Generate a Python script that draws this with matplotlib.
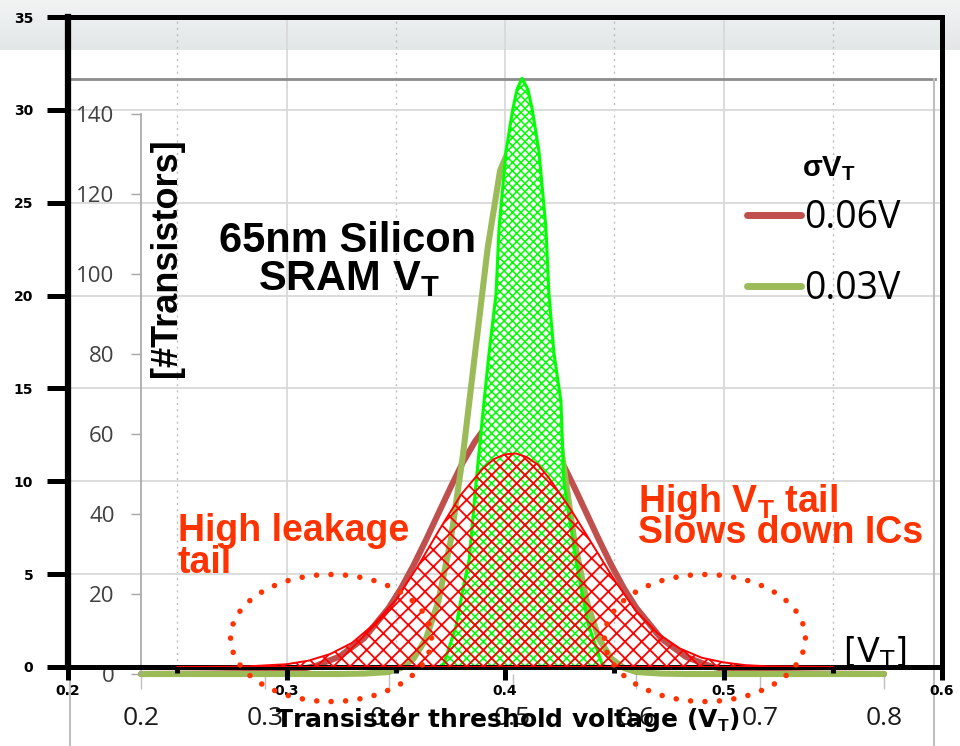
import numpy as np
import matplotlib
import matplotlib.pyplot as plt
from matplotlib.lines import Line2D
from matplotlib.patches import Ellipse
from matplotlib.colors import LinearSegmentedColormap

plt.rcParams['mathtext.fontset'] = 'custom'
plt.rcParams['mathtext.bf'] = 'Liberation Sans:bold'
plt.rcParams['mathtext.rm'] = 'DejaVu Sans'

# Histogram of SRAM threshold voltages (counts per 10 mV bin)
vt_bins = [0.20, 0.25, 0.30, 0.32, 0.34, 0.36, 0.38,
           0.40, 0.41, 0.42, 0.43, 0.44, 0.45, 0.46, 0.47, 0.48, 0.49, 0.50,
           0.51, 0.52, 0.53, 0.54, 0.55, 0.56, 0.57, 0.58, 0.59, 0.60,
           0.62, 0.64, 0.66, 0.68, 0.70, 0.75, 0.80]
count_sigma_060 = [0, 0.1, 0.3, 0.7, 1.9, 4.3, 8.9,
                   16.5, 21.4, 27.1, 33.4, 40.0, 46.6, 52.9, 58.2, 62.4, 65.1, 66.0,
                   65.1, 62.4, 58.2, 52.9, 46.6, 40.0, 33.4, 27.1, 21.4, 16.5,
                   8.9, 4.3, 1.9, 0.7, 0.3, 0.1, 0]
count_sigma_030 = [0, 0, 0, 0, 0, 0, 0.1,
                   0.5, 1.5, 3.8, 8.7, 18.0, 33.2, 54.7, 80.7, 106.5, 125.8, 133.0,
                   125.8, 106.5, 80.7, 54.7, 33.2, 18.0, 8.7, 3.8, 1.5, 0.5,
                   0.1, 0, 0, 0, 0, 0, 0]
series_labels = ['0.06V', '0.03V']

# Hatched overlay (second scale: 0.2-0.6 V, 0-35)
vt_red = [0.25, 0.28, 0.30, 0.31, 0.32, 0.33, 0.34, 0.35, 0.36, 0.37, 0.38, 0.39,
          0.395, 0.40, 0.405, 0.41, 0.415, 0.42, 0.43, 0.44, 0.45, 0.46, 0.47,
          0.48, 0.49, 0.50, 0.51, 0.52, 0.55]
tail_red = [0, 0.02, 0.15, 0.34, 0.7, 1.3, 2.3, 3.6, 5.4, 7.4, 9.3, 10.7,
            11.2, 11.45, 11.5, 11.3, 10.9, 10.2, 8.5, 6.6, 4.7, 3.0, 1.8,
            1.0, 0.5, 0.25, 0.1, 0.04, 0]
vt_green = [0.370, 0.3721, 0.3776, 0.3804, 0.3836, 0.3868, 0.3904, 0.3927, 0.3959,
            0.3973, 0.4005, 0.4035, 0.4055, 0.4078, 0.4105, 0.4125, 0.4155, 0.4187,
            0.4201, 0.4224, 0.4256, 0.4269, 0.4324, 0.4352, 0.4384, 0.4443, 0.446]
tail_green = [0, 0.2, 2.2, 4.0, 5.8, 10.0, 14.3, 16.9, 20.1,
              23.7, 27.8, 30.0, 31.1, 31.7, 31.1, 30.0, 27.8, 23.7,
              20.1, 16.9, 14.3, 10.0, 5.8, 4.0, 2.2, 0.2, 0]

W, H = 960, 746
fig = plt.figure(figsize=(W / 100, H / 100), dpi=100)


def fx(px):
    return px / W


def fy(py):
    return 1 - py / H


# grey header band
ax_band = fig.add_axes([0, fy(50), 1, 50 / H], zorder=-3)
band = np.linspace(0, 1, 64)[:, None]
ax_band.imshow(band, aspect='auto',
               cmap=LinearSegmentedColormap.from_list('band', ['#F2F4F4', '#E3E7E7']))
ax_band.axis('off')

out_rect = [fx(68), fy(667), fx(942) - fx(68), fy(17) - fy(667)]

# grid of the outer scale, below everything
ax_grid = fig.add_axes(out_rect, zorder=0)
ax_grid.set_facecolor('none')
ax_grid.set_xlim(0.2, 0.6)
ax_grid.set_ylim(0, 35)
ax_grid.set_xticks([0.3, 0.4, 0.5])
ax_grid.set_xticks([0.25, 0.35, 0.45, 0.55], minor=True)
ax_grid.set_yticks(range(5, 35, 5))
ax_grid.grid(which='major', color='#D9D9D9', lw=1.3)
ax_grid.grid(which='minor', axis='x', color='#BDBDBD', lw=1, linestyle=(0, (1.5, 3)))
ax_grid.tick_params(which='both', length=0, labelbottom=False, labelleft=False)
for s in ax_grid.spines.values():
    s.set_visible(False)

# frame of the embedded chart
fig.add_artist(Line2D([fx(70), fx(935)], [fy(79), fy(79)], color='#8C8C8C', lw=2, zorder=0.5))
fig.add_artist(Line2D([fx(70), fx(70)], [fy(79), 0], color='#BFBFBF', lw=1.5, zorder=0.5))
fig.add_artist(Line2D([fx(934), fx(934)], [fy(79), 0], color='#BFBFBF', lw=1.5, zorder=0.5))

# embedded chart: transistor counts
ax_in = fig.add_axes([fx(141), fy(674), fx(884) - fx(141), fy(113.5) - fy(674)], zorder=1)
ax_in.set_facecolor('none')
l_red, = ax_in.plot(vt_bins, count_sigma_060, color='#C0504D', lw=4.4,
                    solid_capstyle='round', clip_on=False, label=series_labels[0])
l_grn, = ax_in.plot(vt_bins, count_sigma_030, color='#9BBB59', lw=4.4,
                    solid_capstyle='round', clip_on=False, label=series_labels[1])
ax_in.set_xlim(0.2, 0.8)
ax_in.set_ylim(0, 140)
ax_in.set_xticks([0.2, 0.3, 0.4, 0.5, 0.6, 0.7, 0.8])
ax_in.set_xticklabels(['0.2', '0.3', '0.4', '0.5', '0.6', '0.7', '0.8'])
ax_in.set_yticks(range(0, 141, 20))
for side in ['top', 'right', 'bottom']:
    ax_in.spines[side].set_visible(False)
ax_in.spines['left'].set_color('#A6A6A6')
ax_in.spines['left'].set_linewidth(1.2)
ax_in.tick_params(axis='y', length=7, width=1, color='#A6A6A6', pad=12,
                  labelsize=16, labelcolor='#404040')
ax_in.tick_params(axis='x', length=11, width=1, color='#BFBFBF', pad=12,
                  labelsize=19, labelcolor='#1A1A1A')
for lab in ax_in.get_xticklabels() + ax_in.get_yticklabels():
    lab.set_fontfamily('Open Sans')

leg = ax_in.legend(handles=[l_red, l_grn], loc='upper left',
                   bbox_to_anchor=(fx(747), fy(199)), bbox_transform=fig.transFigure,
                   frameon=False, prop={'family': 'Open Sans', 'size': 27},
                   handlelength=1.45, handletextpad=0.08, labelspacing=0.88,
                   borderpad=0, borderaxespad=0)
for h in leg.legend_handles:
    h.set_linewidth(5)

# outer chart: hatched distributions
ax_out = fig.add_axes(out_rect, zorder=2)
ax_out.set_facecolor('none')
ax_out.set_xlim(0.2, 0.6)
ax_out.set_ylim(0, 35)

with plt.rc_context({'hatch.linewidth': 1.1}):
    g = ax_out.fill_between(vt_green, tail_green, 0, facecolor='white',
                            edgecolor='#00FF00', hatch='xxxx', lw=2.2, zorder=2)
with plt.rc_context({'hatch.linewidth': 1.3}):
    r = ax_out.fill_between(vt_red, tail_red, 0, facecolor='none',
                            edgecolor='#FF0000', hatch='xx', lw=1.4, zorder=3)
if hasattr(g, 'set_hatch_linewidth'):
    g.set_hatch_linewidth(1.1)
    r.set_hatch_linewidth(1.3)

for cx in [0.3204, 0.4915]:
    ax_out.add_patch(Ellipse((cx, 1.56), 0.092, 6.84, fill=False, edgecolor='#FF3300',
                             lw=4.0, linestyle=(0, (0.01, 2.6)), capstyle='round',
                             clip_on=False, zorder=6))

for s in ax_out.spines.values():
    s.set_color('black')
    s.set_linewidth(3.6)
ax_out.spines['left'].set_linewidth(4.5)
ax_out.set_yticks(range(0, 36, 5))
ax_out.set_xticks([0.2, 0.3, 0.4, 0.5, 0.6])
ax_out.set_xticklabels(['0.2', '0.3', '0.4', '0.5', '0.6'])
ax_out.set_xticks([0.25, 0.35, 0.45, 0.55], minor=True)
ax_out.tick_params(axis='y', length=15, width=3.6, pad=10, labelsize=10)
ax_out.tick_params(axis='x', which='major', length=9, width=3.6, pad=3, labelsize=10)
ax_out.tick_params(axis='x', which='minor', length=4, width=3.6)
for lab in ax_out.get_xticklabels() + ax_out.get_yticklabels():
    lab.set_fontweight('bold')

# annotations
bold = dict(family='Liberation Sans', weight='bold')
fig.text(fx(802), fy(176), 'σV$_\\mathbf{T}$', ha='left', va='baseline', size=21, **bold)
fig.text(fx(166), fy(258), '[#Transistors]', rotation=90, ha='center', va='center',
         size=26, **bold)
fig.text(fx(348), fy(252), '65nm Silicon', ha='center', va='baseline', size=30, **bold)
fig.text(fx(349), fy(290), r'SRAM V$_\mathbf{T}$', ha='center', va='baseline', size=30, **bold)
fig.text(fx(178), fy(541), 'High leakage', color='#FF3300', ha='left', va='baseline',
         size=27, **bold)
fig.text(fx(178), fy(573), 'tail', color='#FF3300', ha='left', va='baseline', size=27, **bold)
fig.text(fx(638), fy(512), r'High V$_\mathbf{T}$ tail', color='#FF3300', ha='left',
         va='baseline', size=27, **bold)
fig.text(fx(638), fy(543), 'Slows down ICs', color='#FF3300', ha='left', va='baseline',
         size=27, **bold)
fig.text(fx(843), fy(662), r'[V$_\mathrm{T}$]', family='DejaVu Sans', ha='left',
         va='baseline', size=24)
fig.text(fx(507), fy(727), r'Transistor threshold voltage (V$_\mathbf{T}$)',
         family='DejaVu Sans', weight='bold', ha='center', va='baseline', size=18)

fig.savefig('out.png', dpi=100)
